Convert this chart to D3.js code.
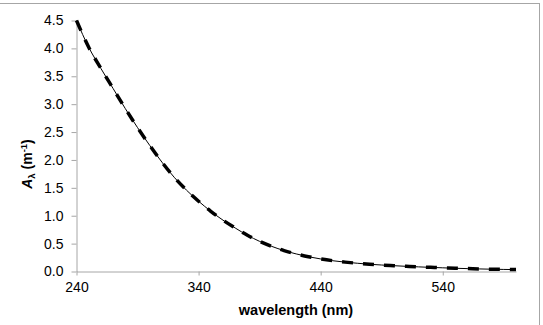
<!DOCTYPE html>
<html><head><meta charset="utf-8">
<script src="https://cdn.jsdelivr.net/npm/d3@7"></script>
<style>
html,body{margin:0;padding:0;background:#fff;}
svg{display:block;font-family:"Liberation Sans",Arial,sans-serif;}
</style></head>
<body>
<svg id="chart" width="543" height="325"></svg>
<script>
const wavelengths = [240,250,260,270,280,290,300,310,320,330,340,350,360,370,380,390,400,410,420,430,440,450,460,470,480,490,500,510,520,530,540,550,560,570,580,590,600];
const measured = [4.50,4.02,3.64,3.28,2.92,2.58,2.26,1.96,1.69,1.46,1.26,1.08,0.92,0.78,0.65,0.54,0.45,0.375,0.315,0.265,0.225,0.193,0.168,0.148,0.13,0.116,0.104,0.093,0.083,0.074,0.066,0.058,0.052,0.046,0.041,0.037,0.034];
const modelled = [4.50,4.02,3.64,3.28,2.92,2.58,2.26,1.96,1.69,1.46,1.26,1.08,0.92,0.78,0.65,0.54,0.45,0.375,0.315,0.265,0.225,0.193,0.168,0.148,0.13,0.116,0.104,0.093,0.083,0.074,0.066,0.058,0.052,0.046,0.041,0.037,0.034];
const xTicks = [240,340,440,540];
const yTicks = [0,0.5,1,1.5,2,2.5,3,3.5,4,4.5];

const svg = d3.select("#chart");
// outer chart frame
svg.append("rect").attr("x",-5).attr("y",3.5).attr("width",544.5).attr("height",330)
  .attr("fill","none").attr("stroke","#a6a6a6").attr("stroke-width",1);

const x = d3.scaleLinear().domain([240,600]).range([76.5,516]);
const y = d3.scaleLinear().domain([0,4.5]).range([271.5,20.5]);

const gx = svg.append("g").attr("transform","translate(0,271.5)")
  .call(d3.axisBottom(x).tickValues(xTicks).tickSize(4).tickSizeOuter(0).tickPadding(7).tickFormat(d3.format("d")));
const gy = svg.append("g").attr("transform","translate(76.5,0)")
  .call(d3.axisLeft(y).tickValues(yTicks).tickSize(5).tickSizeOuter(0).tickPadding(8).tickFormat(d3.format(".1f")));
[gx,gy].forEach(g=>{
  g.select(".domain").attr("stroke","#a6a6a6");
  g.selectAll(".tick line").attr("stroke","#a6a6a6");
  g.selectAll("text").attr("font-size",14).attr("fill","#000").attr("font-family","Liberation Sans, Arial, sans-serif");
});

const line = d3.line().x((d,i)=>x(wavelengths[i])).y(d=>y(d)).curve(d3.curveMonotoneX);
svg.append("path").datum(modelled).attr("d",line).attr("fill","none")
  .attr("stroke","#000").attr("stroke-width",3.5).attr("stroke-dasharray","11,10");
svg.append("path").datum(measured).attr("d",line).attr("fill","none")
  .attr("stroke","#000").attr("stroke-width",1);

svg.append("text").attr("x",296).attr("y",315).attr("text-anchor","middle")
  .attr("font-size",14.5).attr("font-weight","bold").text("wavelength (nm)");

const yl = svg.append("text").attr("transform","translate(32,164) rotate(-90)")
  .attr("text-anchor","middle").attr("font-size",14).attr("font-weight","bold");
yl.append("tspan").attr("font-style","italic").text("A");
yl.append("tspan").attr("font-size",9.5).attr("dy",3).text("λ");
yl.append("tspan").attr("dy",-3).text(" (m");
yl.append("tspan").attr("font-size",9.5).attr("dy",-5).text("-1");
yl.append("tspan").attr("dy",5).text(")");
</script>
</body></html>
